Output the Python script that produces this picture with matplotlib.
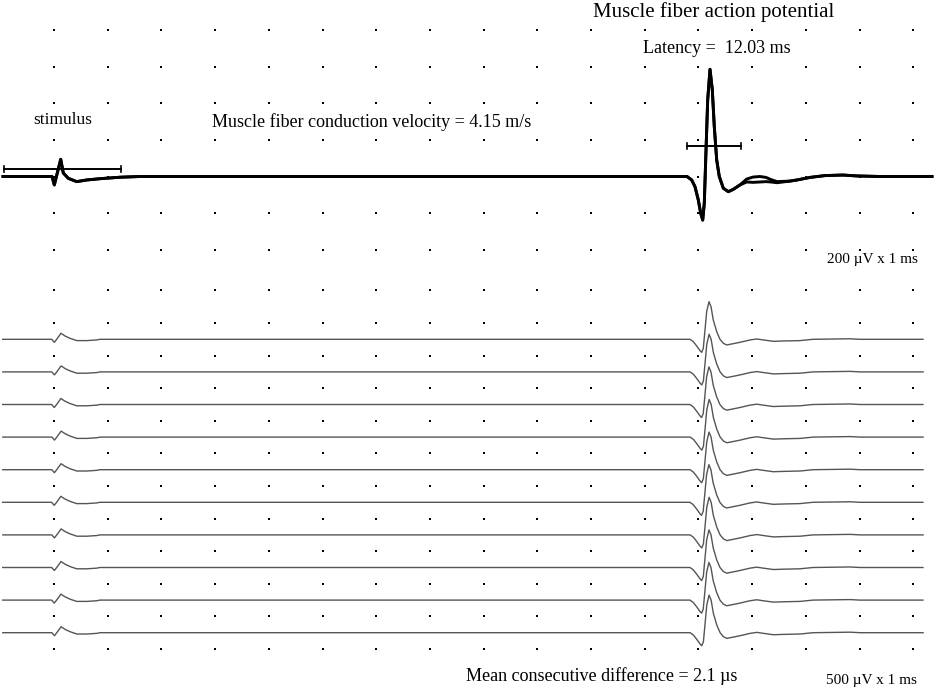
import matplotlib
matplotlib.use("Agg")
import matplotlib.pyplot as plt

W, H, DPI = 935, 690, 100
plt.rcParams['font.family'] = ['Liberation Serif', 'DejaVu Serif']

# ---------------- data ----------------
# time axis in ms (one grid division = 1 ms), stimulus at 0 ms
# Top: superimposed single-fiber recording (µV), 200 µV per division
top_t = [-0.950, -0.261, -0.037, 0.006, 0.125, 0.173, 0.266, 0.423, 0.609, 0.857,
         1.229, 1.601, 4.58, 8.31, 11.788, 11.875, 11.937, 11.998, 12.043, 12.080,
         12.110, 12.142, 12.173, 12.216, 12.259, 12.296, 12.341, 12.389, 12.464,
         12.557, 12.650, 12.775, 12.899, 13.017, 13.147, 13.259, 13.352, 13.464,
         13.706, 13.836, 14.078, 14.358, 14.693, 14.953, 15.38, 16.35]
top_a = [0, 0, 0, -46, 94, 19, -10, -28, -19, -12,
         -4, 0, 0, 0, 0, -19, -56, -128, -201, -238,
         -145, 145, 418, 586, 473, 272, 90, 0, -64,
         -83, -70, -46, -14, -3, 0, -5, -17, -28,
         -25, -19, -5, 5, 8, 3, 0, 0]
top_b = [0, 0, 0, -46, 94, 19, -10, -28, -19, -12,
         -4, 0, 0, 0, 0, -19, -56, -128, -201, -238,
         -145, 145, 418, 586, 473, 272, 90, 0, -64,
         -83, -70, -46, -30, -32, -30, -28, -30, -34,
         -25, -19, -5, 5, 8, 3, 0, 0]

# Bottom: consecutive sweeps (µV), 500 µV per division
low_t = [-0.955, -0.043, 0.006, 0.050, 0.130, 0.205, 0.298, 0.423, 0.609, 0.795,
         0.857, 11.844, 11.905, 11.968, 12.030, 12.061, 12.091, 12.123, 12.154,
         12.197, 12.235, 12.277, 12.341, 12.402, 12.464, 12.527, 12.620, 12.775,
         12.961, 13.086, 13.209, 13.395, 13.581, 13.892, 14.134, 14.823, 15.009, 16.182]
low_v = [0, 0, -46, 0, 92, 51, 15, -20, -20, -10,
         0, 0, -36, -102, -174, -200, -138, 143, 424,
         577, 500, 296, 117, 0, -61, -87, -72, -46,
         -10, 5, -10, -31, -26, -20, 0, 8, 0, 0]
sweep_shift_ms = [0.000, 0.002, -0.001, 0.003, 0.001, -0.002, 0.002, 0.000, -0.001, 0.002]
sweep_spacing_uv = 500

stim_bar = (-0.93, 1.25, 41)      # x0, x1 (ms), level (µV)
lat_bar = (11.79, 12.79, 168)

grid_cols = list(range(0, 17))
top_rows = [800, 600, 400, 200, 0, -200, -400]
low_rows = [750 - 500 * j for j in range(12)]

# ---------------- figure ----------------
fig = plt.figure(figsize=(W / DPI, H / DPI), dpi=DPI)
fig.patch.set_facecolor('white')
xlim = (-54 / 53.7, (935 - 54) / 53.7)

ax1 = fig.add_axes([0, 1 - 270 / H, 1, 270 / H])
ax1.set_xlim(*xlim)
ax1.set_ylim((176.5 - 270) / 0.183, 176.5 / 0.183)
ax1.axis('off')

ax2 = fig.add_axes([0, 0, 1, 420 / H])
ax2.set_xlim(*xlim)
ax2.set_ylim(-(690 - 339.3) / 0.0652, (339.3 - 270) / 0.0652)
ax2.axis('off')

# grid dots
for ax, rows in ((ax1, top_rows), (ax2, low_rows)):
    xs = [c for r in rows for c in grid_cols]
    ys = [r for r in rows for c in grid_cols]
    ax.scatter(xs, ys, s=1.5, marker='s', color='black', linewidths=0, zorder=1)

# top traces
ax1.plot(top_t, top_b, color='black', lw=2.1, zorder=3, solid_joinstyle='round')
ax1.plot(top_t, top_a, color='black', lw=2.1, zorder=3, solid_joinstyle='round')

# bars with end ticks
for x0, x1, yv in (stim_bar, lat_bar):
    ax1.plot([x0, x1], [yv, yv], color='black', lw=1.4, zorder=4)
    for xe in (x0, x1):
        ax1.plot([xe, xe], [yv - 17, yv + 17], color='black', lw=1.2, zorder=4)

# bottom sweeps
for i, sh in enumerate(sweep_shift_ms):
    ax2.plot([t + sh for t in low_t], [v - i * sweep_spacing_uv for v in low_v],
             color='#555555', lw=1.0, zorder=3)

# texts
def ftext(x, y, s, size, ha='left'):
    fig.text(x / W, 1 - y / H, s, fontsize=size, ha=ha, va='baseline', color='black')

ftext(713.5, 17, 'Muscle fiber action potential', 15, ha='center')
ftext(643, 53, 'Latency =  12.03 ms', 13)
ftext(33, 124, 'stimulus', 12.5)
ftext(212, 127, 'Muscle fiber conduction velocity = 4.15 m/s', 13)
ftext(827, 263, '200 µV x 1 ms', 11)
ftext(466, 681, 'Mean consecutive difference = 2.1 µs', 13)
ftext(826, 684, '500 µV x 1 ms', 11)

fig.savefig('out.png', dpi=DPI, facecolor='white')
